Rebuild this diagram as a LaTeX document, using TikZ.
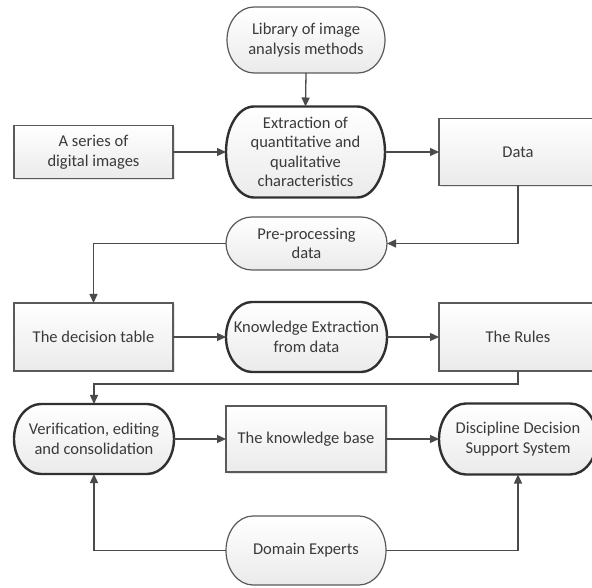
\documentclass[tikz,border=0pt]{standalone}
\usepackage{fontspec}
\setmainfont{Carlito}
\usetikzlibrary{arrows.meta,backgrounds,shadows}
\definecolor{txt}{HTML}{3A3A3A}
\definecolor{thinline}{HTML}{5A5A5A}
\definecolor{thickline}{HTML}{303030}
\definecolor{conn}{HTML}{4A4A4A}
\newcommand\termpath[4]{%
  \path[#4] ([xshift=#2]#1.north west) -- ([xshift=-#2]#1.north east)
    arc[start angle=90,end angle=-90,x radius=#2,y radius=#3]
    -- ([xshift=#2]#1.south west)
    arc[start angle=270,end angle=90,x radius=#2,y radius=#3] -- cycle;}
\tikzset{
  lbl/.style={inner sep=0pt, outer sep=0pt, align=center, text=txt,
    font=\fontsize{16.5}{19.5}\selectfont},
  rectbox/.style={lbl, draw=thinline, line width=1.2pt, top color=white, bottom color=black!8,
    drop shadow={shadow xshift=1.5pt, shadow yshift=-1.5pt, opacity=0.2}},
  termnode/.style={lbl},
  thinterm/.style={draw=thinline, line width=1.2pt, top color=white, bottom color=black!8},
  thickterm/.style={draw=thickline, line width=2.4pt, top color=white, bottom color=black!8},
  conn/.style={draw=conn, line width=1.3pt, -{Triangle[length=9pt,width=8pt]}}
}
\begin{document}
\begin{tikzpicture}[x=1pt,y=1pt]
\useasboundingbox (0,0) rectangle (592,587);
\clip (0,0) rectangle (592,587);
% nodes
\node[termnode, minimum width=158pt, minimum height=66pt] (lib) at (306,547) {Library of image\\analysis methods};
\node[termnode, minimum width=159pt, minimum height=91pt] (ext) at (305.5,435) {Extraction of\\quantitative and\\qualitative\\characteristics};
\node[rectbox, minimum width=159pt, minimum height=53pt] (ser) at (93.5,435) {A series of\\digital images};
\node[rectbox, minimum width=158pt, minimum height=67pt] (data) at (518,435) {Data};
\node[termnode, minimum width=161pt, minimum height=53pt] (pre) at (306.5,343.5) {Pre-processing\\data};
\node[rectbox, minimum width=159pt, minimum height=68pt] (dt) at (93.5,250) {The decision table};
\node[termnode, minimum width=161pt, minimum height=70pt] (ke) at (306.5,250) {Knowledge Extraction\\from data};
\node[rectbox, minimum width=158pt, minimum height=68pt] (rules) at (518,250) {The Rules};
\node[termnode, minimum width=160pt, minimum height=70pt] (ver) at (94,148) {Verification, editing\\and consolidation};
\node[rectbox, minimum width=160pt, minimum height=66pt] (kb) at (306,148) {The knowledge base};
\node[termnode, minimum width=158pt, minimum height=71pt] (dss) at (518,148) {Discipline Decision\\Support System};
\node[termnode, minimum width=160pt, minimum height=69pt] (dom) at (306,36.5) {Domain Experts};
% terminator outlines
\begin{scope}[on background layer]
\fill[white] (0,0) rectangle (592,587);
\termpath{lib}{27pt}{33pt}{thinterm}
\termpath{ext}{28pt}{45.5pt}{thickterm}
\termpath{pre}{26pt}{26.5pt}{thinterm}
\termpath{ke}{26pt}{35pt}{thickterm}
\termpath{ver}{27pt}{35pt}{thickterm}
\termpath{dss}{27pt}{35.5pt}{thickterm}
\termpath{dom}{27pt}{34.5pt}{thinterm}
\end{scope}
% connectors
\coordinate (rbend) at (518,203);
\draw[conn] (lib.south) -- (ext.north);
\draw[conn] (ser.east) -- (ext.west);
\draw[conn] (ext.east) -- (data.west);
\draw[conn] (data.south) |- (pre.east);
\draw[conn] (pre.west) -| (dt.north);
\draw[conn] (dt.east) -- (ke.west);
\draw[conn] (ke.east) -- (rules.west);
\draw[conn] (rules.south) -- (rbend) -| (ver.north);
\draw[conn] (ver.east) -- (kb.west);
\draw[conn] (kb.east) -- (dss.west);
\draw[conn] (dom.west) -| (ver.south);
\draw[conn] (dom.east) -| (dss.south);
\end{tikzpicture}
\end{document}
